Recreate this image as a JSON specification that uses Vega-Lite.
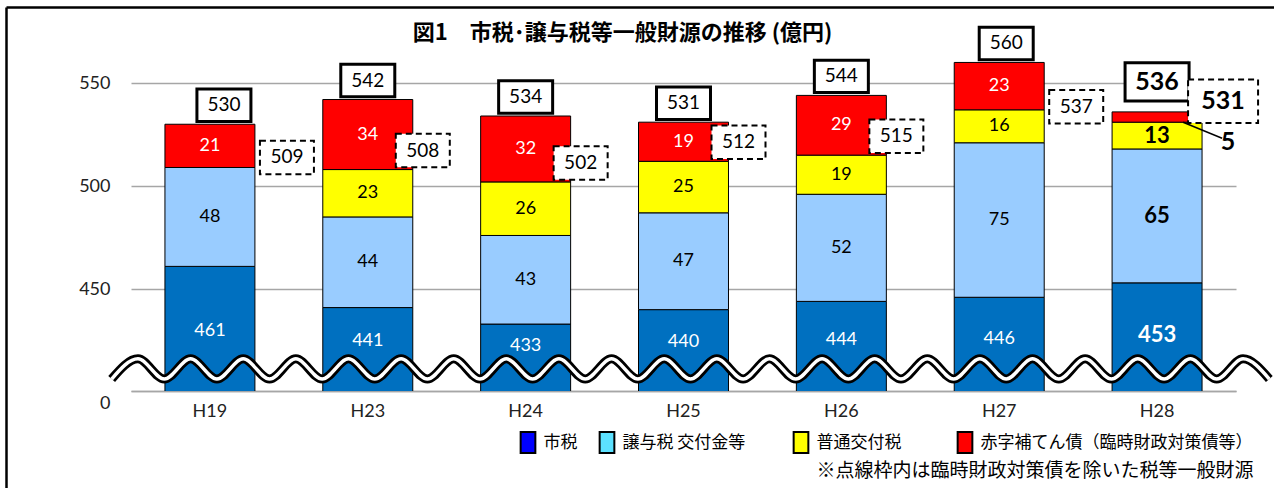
{
  "$schema": "https://vega.github.io/schema/vega-lite/v6.json",
  "width": 1105,
  "height": 361,
  "autosize": {"type": "none"},
  "padding": {"left": 131, "top": 30, "right": 38, "bottom": 97},
  "background": "white",
  "title": {"text": "図1　市税･譲与税等一般財源の推移 (億円)", "font": "Noto Sans CJK JP", "fontSize": 22, "fontWeight": "bold", "anchor": "middle", "frame": "group", "baseline": "middle", "offset": 0, "dy": 48, "dx": -61, "color": "#000"},
  "config": {"view": {"stroke": null}, "font": "Lato"},
  "datasets": {
    "bars": [
      {"year": "H19", "cat": "市税", "k": 1, "v": 461},
      {"year": "H19", "cat": "譲与税 交付金等", "k": 2, "v": 48},
      {"year": "H19", "cat": "赤字補てん債（臨時財政対策債等）", "k": 4, "v": 21},
      {"year": "H23", "cat": "市税", "k": 1, "v": 441},
      {"year": "H23", "cat": "譲与税 交付金等", "k": 2, "v": 44},
      {"year": "H23", "cat": "普通交付税", "k": 3, "v": 23},
      {"year": "H23", "cat": "赤字補てん債（臨時財政対策債等）", "k": 4, "v": 34},
      {"year": "H24", "cat": "市税", "k": 1, "v": 433},
      {"year": "H24", "cat": "譲与税 交付金等", "k": 2, "v": 43},
      {"year": "H24", "cat": "普通交付税", "k": 3, "v": 26},
      {"year": "H24", "cat": "赤字補てん債（臨時財政対策債等）", "k": 4, "v": 32},
      {"year": "H25", "cat": "市税", "k": 1, "v": 440},
      {"year": "H25", "cat": "譲与税 交付金等", "k": 2, "v": 47},
      {"year": "H25", "cat": "普通交付税", "k": 3, "v": 25},
      {"year": "H25", "cat": "赤字補てん債（臨時財政対策債等）", "k": 4, "v": 19},
      {"year": "H26", "cat": "市税", "k": 1, "v": 444},
      {"year": "H26", "cat": "譲与税 交付金等", "k": 2, "v": 52},
      {"year": "H26", "cat": "普通交付税", "k": 3, "v": 19},
      {"year": "H26", "cat": "赤字補てん債（臨時財政対策債等）", "k": 4, "v": 29},
      {"year": "H27", "cat": "市税", "k": 1, "v": 446},
      {"year": "H27", "cat": "譲与税 交付金等", "k": 2, "v": 75},
      {"year": "H27", "cat": "普通交付税", "k": 3, "v": 16},
      {"year": "H27", "cat": "赤字補てん債（臨時財政対策債等）", "k": 4, "v": 23},
      {"year": "H28", "cat": "市税", "k": 1, "v": 453},
      {"year": "H28", "cat": "譲与税 交付金等", "k": 2, "v": 65},
      {"year": "H28", "cat": "普通交付税", "k": 3, "v": 13},
      {"year": "H28", "cat": "赤字補てん債（臨時財政対策債等）", "k": 4, "v": 5}
    ],
    "tot": [
      {"year": "H19", "total": 530, "sub": 509, "red": 21},
      {"year": "H23", "total": 542, "sub": 508, "red": 34},
      {"year": "H24", "total": 534, "sub": 502, "red": 32},
      {"year": "H25", "total": 531, "sub": 512, "red": 19},
      {"year": "H26", "total": 544, "sub": 515, "red": 29},
      {"year": "H27", "total": 560, "sub": 537, "red": 23},
      {"year": "H28", "total": 536, "sub": 531, "red": 5}
    ],
    "wave": [
      {"u": -0.1224, "w": 406.3}, {"u": 0.0443, "w": 416.1}, {"u": 0.2109, "w": 406.3}, {"u": 0.3776, "w": 416.1},
      {"u": 0.5443, "w": 406.3}, {"u": 0.7109, "w": 416.1}, {"u": 0.8776, "w": 406.3}, {"u": 1.0443, "w": 416.1},
      {"u": 1.2109, "w": 406.3}, {"u": 1.3776, "w": 416.1}, {"u": 1.5443, "w": 406.3}, {"u": 1.7109, "w": 416.1},
      {"u": 1.8776, "w": 406.3}, {"u": 2.0443, "w": 416.1}, {"u": 2.2109, "w": 406.3}, {"u": 2.3776, "w": 416.1},
      {"u": 2.5443, "w": 406.3}, {"u": 2.7109, "w": 416.1}, {"u": 2.8776, "w": 406.3}, {"u": 3.0443, "w": 416.1},
      {"u": 3.2109, "w": 406.3}, {"u": 3.3776, "w": 416.1}, {"u": 3.5443, "w": 406.3}, {"u": 3.7109, "w": 416.1},
      {"u": 3.8776, "w": 406.3}, {"u": 4.0443, "w": 416.1}, {"u": 4.2109, "w": 406.3}, {"u": 4.3776, "w": 416.1},
      {"u": 4.5443, "w": 406.3}, {"u": 4.7109, "w": 416.1}, {"u": 4.8776, "w": 406.3}, {"u": 5.0443, "w": 416.1},
      {"u": 5.2109, "w": 406.3}, {"u": 5.3776, "w": 416.1}, {"u": 5.5443, "w": 406.3}, {"u": 5.7109, "w": 416.1},
      {"u": 5.8776, "w": 406.3}, {"u": 6.0443, "w": 416.1}, {"u": 6.2109, "w": 406.3}, {"u": 6.3776, "w": 416.1},
      {"u": 6.5443, "w": 406.3}, {"u": 6.7109, "w": 416.1}, {"u": 6.8776, "w": 406.3}, {"u": 7.0443, "w": 416.1},
      {"u": 7.2109, "w": 406.3}
    ]
  },
  "layer": [
    {
      "layer": [
        {
          "data": {"name": "bars"},
          "mark": {"type": "bar", "clip": true, "stroke": "#000", "strokeWidth": 1},
          "encoding": {
            "x": {"field": "year", "type": "nominal", "sort": null,
              "scale": {"paddingInner": 0.43, "paddingOuter": 0.215},
              "axis": {"title": "※点線枠内は臨時財政対策債を除いた税等一般財源", "titleFont": "Noto Sans CJK JP", "titleFontSize": 19, "titleFontWeight": "normal", "titleX": 1122, "titleY": 79, "titleAlign": "right", "titleAnchor": "end", "titleBaseline": "middle", "titleColor": "#000", "labelAngle": 0, "labelFont": "Lato", "labelFontSize": 18, "labelPadding": 11, "labelColor": "#222", "ticks": false, "domainColor": "#a6a6a6", "domainWidth": 1.5}},
            "y": {"field": "v", "type": "quantitative", "stack": "zero",
              "scale": {"domain": [400.5, 575.75], "nice": false, "zero": false},
              "axis": {"title": null, "values": [400.5, 450, 500, 550], "labelExpr": "datum.value < 420 ? ['', '0'] : datum.label", "labelLineHeight": 12, "grid": true, "gridColor": "#a6a6a6", "gridWidth": 1.5, "domain": false, "ticks": false, "labelPadding": 21, "labelFont": "Lato", "labelFontSize": 18, "labelColor": "#222"}},
            "fill": {"field": "cat", "type": "nominal",
              "scale": {"domain": ["市税", "譲与税 交付金等", "普通交付税", "赤字補てん債（臨時財政対策債等）"], "range": ["#0070c0", "#99ccff", "#ffff00", "#ff0000"]},
              "legend": null},
            "order": {"field": "k", "type": "quantitative"}
          }
        },
        {
          "data": {"name": "bars"},
          "transform": [{"filter": "false"}],
          "mark": {"type": "point", "shape": "M-0.7,-1H0.7V1H-0.7Z", "filled": true, "stroke": "#000", "strokeWidth": 2, "opacity": 1},
          "encoding": {
            "fill": {"field": "cat", "type": "nominal",
              "scale": {"domain": ["市税", "譲与税 交付金等", "普通交付税", "赤字補てん債（臨時財政対策債等）"], "range": ["#0000ff", "#5ce1ff", "#ffff00", "#ff0000"]},
              "legend": {"title": null, "orient": "none", "legendX": 385.5, "legendY": 401, "direction": "horizontal", "columns": 4, "padding": 0,
                "symbolType": "M-0.7,-1H0.7V1H-0.7Z", "symbolSize": 441, "symbolStrokeColor": "#000", "symbolStrokeWidth": 2, "symbolOpacity": 1,
                "labelFont": "Noto Sans CJK JP", "labelFontSize": 17, "labelOffset": 4, "columnPadding": 18, "labelColor": "#000", "labelLimit": 400,
                "labelExpr": "datum.label === '譲与税 交付金等' ? datum.label + '　\u2002\u200b' : (datum.label === '普通交付税' ? datum.label + '　　\u200b' : datum.label)"}}
          }
        },
        {
          "data": {"name": "bars"},
          "transform": [
            {"stack": "v", "groupby": ["year"], "sort": [{"field": "k", "order": "ascending"}], "as": ["s0", "s1"]},
            {"filter": "!(datum.year === 'H28' && datum.k === 4)"},
            {"calculate": "datum.k === 1 ? 310 + 0.26 * datum.s1 : (datum.s0 + datum.s1) / 2", "as": "mid"}
          ],
          "mark": {"type": "text", "font": "Lato", "baseline": "middle", "fontWeight": {"expr": "datum.year === 'H28' ? 'bold' : 'normal'"}},
          "encoding": {
            "x": {"field": "year", "type": "nominal", "sort": null},
            "y": {"field": "mid", "type": "quantitative", "scale": {"domain": [400.5, 575.75], "nice": false, "zero": false}},
            "text": {"field": "v", "type": "quantitative"},
            "size": {"condition": {"test": "datum.year === 'H28'", "value": 22}, "value": 18},
            "color": {"condition": {"test": "datum.k === 1 || datum.k === 4", "value": "#ffffff"}, "value": "#000000"}
          }
        },
        {
          "data": {"name": "tot"},
          "mark": {"type": "point", "shape": "M-1,-0.6H1V0.6H-1Z", "filled": true, "fill": "#ffffff", "stroke": "#000", "strokeWidth": 3, "opacity": 1,
            "xOffset": {"expr": "datum.year === 'H19' ? 14 : (datum.year === 'H27' ? 7 : 0)"}, "yOffset": {"expr": "datum.year === 'H28' ? -30 : -19"}},
          "encoding": {
            "x": {"field": "year", "type": "nominal", "sort": null},
            "y": {"field": "total", "type": "quantitative", "scale": {"domain": [400.5, 575.75], "nice": false, "zero": false}},
            "size": {"condition": {"test": "datum.year === 'H28'", "value": 4096}, "value": 2916}
          }
        },
        {
          "data": {"name": "tot"},
          "mark": {"type": "text", "font": "Lato", "baseline": "middle", "color": "#000",
            "xOffset": {"expr": "datum.year === 'H19' ? 14 : (datum.year === 'H27' ? 7 : 0)"}, "yOffset": {"expr": "datum.year === 'H28' ? -30 : -19"}, "fontWeight": {"expr": "datum.year === 'H28' ? 'bold' : 'normal'"}},
          "encoding": {
            "x": {"field": "year", "type": "nominal", "sort": null},
            "y": {"field": "total", "type": "quantitative", "scale": {"domain": [400.5, 575.75], "nice": false, "zero": false}},
            "text": {"field": "total", "type": "quantitative"},
            "size": {"condition": {"test": "datum.year === 'H28'", "value": 25}, "value": 19}
          }
        },
        {
          "data": {"name": "tot"},
          "mark": {"type": "point", "shape": "M-1,-0.62H1V0.62H-1Z", "filled": true, "fill": "#ffffff", "stroke": "#000", "strokeWidth": 2, "strokeDash": [6, 4], "opacity": 1,
            "xOffset": {"expr": "datum.year === 'H28' ? 66 : ((datum.year === 'H19' || datum.year === 'H27') ? 77 : 55)"},
            "yOffset": {"expr": "datum.year === 'H28' ? -21 : (datum.year === 'H19' ? -10 : (datum.year === 'H27' ? -3 : -19))"}},
          "encoding": {
            "x": {"field": "year", "type": "nominal", "sort": null},
            "y": {"field": "sub", "type": "quantitative", "scale": {"domain": [400.5, 575.75], "nice": false, "zero": false}},
            "size": {"condition": {"test": "datum.year === 'H28'", "value": 4900}, "value": 2916}
          }
        },
        {
          "data": {"name": "tot"},
          "mark": {"type": "text", "font": "Lato", "baseline": "middle", "color": "#000",
            "xOffset": {"expr": "datum.year === 'H28' ? 66 : ((datum.year === 'H19' || datum.year === 'H27') ? 77 : 55)"},
            "yOffset": {"expr": "datum.year === 'H28' ? -21 : (datum.year === 'H19' ? -10 : (datum.year === 'H27' ? -3 : -19))"},
            "fontWeight": {"expr": "datum.year === 'H28' ? 'bold' : 'normal'"}},
          "encoding": {
            "x": {"field": "year", "type": "nominal", "sort": null},
            "y": {"field": "sub", "type": "quantitative", "scale": {"domain": [400.5, 575.75], "nice": false, "zero": false}},
            "text": {"field": "sub", "type": "quantitative"},
            "size": {"condition": {"test": "datum.year === 'H28'", "value": 25}, "value": 19}
          }
        },
        {
          "data": {"name": "tot"},
          "transform": [{"filter": "datum.year === 'H28'"}],
          "mark": {"type": "rule", "stroke": "#000", "strokeWidth": 1.5, "xOffset": 26, "x2Offset": 65, "y2Offset": 16},
          "encoding": {
            "x": {"field": "year", "type": "nominal", "sort": null},
            "x2": {"field": "year"},
            "y": {"field": "sub", "type": "quantitative", "scale": {"domain": [400.5, 575.75], "nice": false, "zero": false}},
            "y2": {"field": "sub"}
          }
        },
        {
          "data": {"name": "tot"},
          "transform": [{"filter": "datum.year === 'H28'"}],
          "mark": {"type": "text", "font": "Lato", "fontWeight": "bold", "fontSize": 25, "baseline": "middle", "color": "#000", "dx": 71, "dy": 20},
          "encoding": {
            "x": {"field": "year", "type": "nominal", "sort": null},
            "y": {"field": "sub", "type": "quantitative", "scale": {"domain": [400.5, 575.75], "nice": false, "zero": false}},
            "text": {"field": "red", "type": "quantitative"}
          }
        }
      ],
      "resolve": {"scale": {"fill": "independent"}, "legend": {"fill": "independent"}}
    },
    {
      "data": {"name": "wave"},
      "mark": {"type": "line", "interpolate": "monotone", "stroke": "#000", "strokeWidth": 9, "clip": false},
      "encoding": {
        "x": {"field": "u", "type": "quantitative", "scale": {"domain": [-0.7918, 7.2406], "range": [-125, 1143], "nice": false, "zero": false},
          "axis": {"orient": "top", "offset": 23, "title": null, "labels": false, "ticks": false, "grid": false, "domainColor": "#000", "domainWidth": 2.5}},
        "y": {"field": "w", "type": "quantitative", "scale": {"domain": [353.4, 586.9], "range": [458, -23], "nice": false, "zero": false},
          "axis": {"orient": "left", "offset": 125, "title": null, "labels": false, "ticks": false, "grid": false, "domainColor": "#000", "domainWidth": 2.5}}
      }
    },
    {
      "data": {"name": "wave"},
      "mark": {"type": "line", "interpolate": "monotone", "stroke": "#fff", "strokeWidth": 3.5, "clip": false},
      "encoding": {
        "x": {"field": "u", "type": "quantitative", "scale": {"domain": [-0.7918, 7.2406], "range": [-125, 1143], "nice": false, "zero": false}, "axis": null},
        "y": {"field": "w", "type": "quantitative", "scale": {"domain": [353.4, 586.9], "range": [458, -23], "nice": false, "zero": false}, "axis": null}
      }
    }
  ],
  "resolve": {"scale": {"x": "independent", "y": "independent"}, "axis": {"x": "independent", "y": "independent"}}
}
